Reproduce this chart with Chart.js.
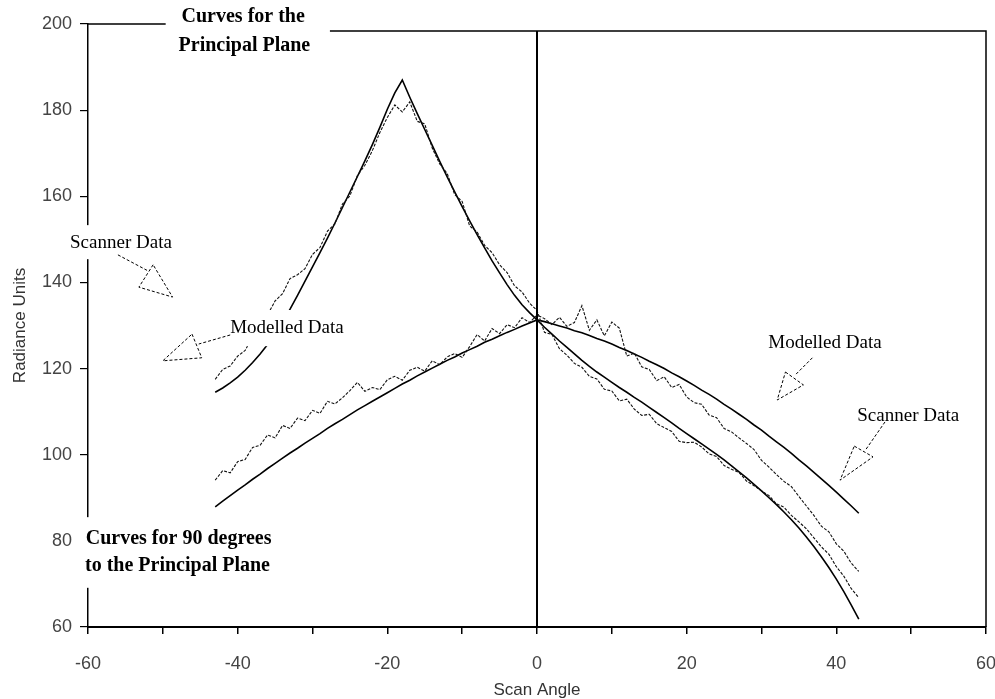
<!DOCTYPE html>
<html>
<head>
<meta charset="utf-8">
<script src="https://cdn.jsdelivr.net/npm/chart.js@4.4.0/dist/chart.umd.min.js"></script>
<style>
  html, body { margin: 0; padding: 0; background: #fff; }
  #wrap { width: 995px; height: 699px; position: relative; }
</style>
</head>
<body>
<div id="wrap"><canvas id="chart"></canvas></div>
<script>
// scan angle (degrees) shared by all four curves
const angles = [
  -43, -42, -41, -40, -39, -38, -37, -36, -35, -34, -33, -32, -31, -30, -29,
  -28, -27, -26, -25, -24, -23, -22, -21, -20, -19, -18, -17, -16, -15, -14,
  -13, -12, -11, -10, -9, -8, -7, -6, -5, -4, -3, -2, -1, 0,
  1, 2, 3, 4, 5, 6, 7, 8, 9, 10, 11, 12, 13, 14, 15, 16, 17, 18, 19, 20,
  21, 22, 23, 24, 25, 26, 27, 28, 29, 30, 31, 32, 33, 34, 35, 36, 37, 38,
  39, 40, 41, 42, 43
];

// principal plane, modelled
const principalModel = [
  114.5, 115.5, 116.7, 118.0, 119.6, 121.4, 123.4, 125.6, 128.0, 130.8, 133.8,
  137.0, 140.3, 143.6, 146.9, 150.3, 153.8, 157.4, 161.0, 164.6, 168.2, 172.0,
  176.0, 180.2, 184.0, 187.0, 183.0, 179.2, 175.5, 171.8, 168.1, 164.5, 161.0,
  157.6, 154.3, 151.1, 148.0, 145.0, 142.2, 139.5, 137.0, 134.8, 133.0, 131.3,
  129.6, 128.0, 126.4, 124.9, 123.4, 121.9, 120.5, 119.2, 118.0, 116.8, 115.6,
  114.5, 113.3, 112.2, 111.0, 109.8, 108.6, 107.4, 106.1, 104.9, 103.7, 102.5,
  101.3, 100.1, 98.8, 97.4, 96.0, 94.6, 93.1, 91.6, 90.0, 88.4, 86.7, 84.9,
  83.0, 80.9, 78.7, 76.3, 73.8, 71.1, 68.2, 65.1, 61.8
];

// principal plane, scanner
const principalScan = [
  117.5, 119.8, 120.6, 122.9, 124.2, 127.5, 129.8, 132.5, 135.7, 137.4, 140.9,
  141.8, 143.2, 146.5, 148.1, 151.9, 153.6, 158.2, 160.1, 164.8, 167.2, 170.6,
  174.8, 178.3, 181.2, 179.6, 181.9, 177.4, 176.8, 171.2, 167.5, 165.3, 160.4,
  158.8, 153.1, 151.7, 148.6, 146.9, 144.1, 142.3, 139.2, 137.8, 135.2, 133.5,
  128.4, 127.9, 124.6, 123.1, 121.2, 120.3, 118.2, 117.6, 115.2, 114.8, 112.5,
  112.9, 110.6, 109.1, 109.4, 107.2, 106.3, 105.4, 103.1, 102.8, 102.9, 101.8,
  100.2, 99.6, 97.5, 96.6, 95.9, 93.9, 92.8, 91.6, 90.5, 88.6, 87.8, 85.9,
  84.4, 82.8, 80.7, 78.6, 76.9, 74.0, 71.8, 68.9, 66.8
];

// 90 degrees to the principal plane, modelled
const crossModel = [
  87.9, 89.2, 90.5, 91.8, 93.0, 94.3, 95.5, 96.8, 98.0, 99.2, 100.4, 101.5,
  102.7, 103.8, 104.9, 106.1, 107.2, 108.2, 109.3, 110.4, 111.4, 112.4, 113.4,
  114.4, 115.4, 116.4, 117.3, 118.3, 119.2, 120.1, 121.0, 121.9, 122.7, 123.6,
  124.4, 125.2, 126.1, 126.8, 127.6, 128.4, 129.1, 129.9, 130.6, 131.3,
  130.9, 130.4, 129.9, 129.4, 128.8, 128.3, 127.7, 127.0, 126.4, 125.7, 124.9,
  124.2, 123.4, 122.6, 121.7, 120.9, 120.0, 119.0, 118.1, 117.1, 116.1, 115.0,
  114.0, 112.9, 111.7, 110.6, 109.4, 108.2, 106.9, 105.7, 104.3, 103.0, 101.7,
  100.3, 98.8, 97.4, 95.9, 94.4, 92.9, 91.3, 89.7, 88.1, 86.4
];

// 90 degrees to the principal plane, scanner
const crossScan = [
  94.1, 96.3, 95.8, 98.4, 98.9, 101.7, 102.2, 104.6, 103.9, 106.8, 106.1, 108.5,
  107.9, 110.3, 109.6, 112.4, 111.8, 113.2, 114.9, 116.8, 114.7, 115.6, 115.1,
  117.4, 118.2, 117.3, 119.6, 120.3, 119.4, 121.8, 120.9, 122.7, 123.5, 122.6,
  125.1, 127.9, 126.4, 129.3, 128.1, 130.2, 129.5, 131.8, 130.7, 132.4,
  131.6, 130.2, 131.9, 129.8, 130.7, 134.6, 128.9, 131.3, 127.6, 130.8, 129.4,
  122.9, 123.6, 120.4, 119.8, 117.2, 118.1, 115.6, 116.3, 113.4, 112.1, 111.7,
  109.2, 108.6, 106.1, 105.3, 103.9, 102.6, 101.2, 98.7, 97.1, 95.4, 93.8,
  92.6, 90.3, 88.1, 85.9, 83.4, 82.1, 79.3, 77.6, 74.8, 72.9
];

// text labels, anchored at their left edge / vertical middle, in data units
const labels = [
  { text: 'Curves for the', x: -47.5, y: 201.6, bold: true },
  { text: 'Principal Plane', x: -47.9, y: 194.9, bold: true },
  { text: 'Curves for 90 degrees', x: -60.3, y: 80.4, bold: true },
  { text: 'to the Principal Plane', x: -60.4, y: 74.2, bold: true },
  { text: 'Scanner Data', x: -62.4, y: 149.2 },
  { text: 'Modelled Data', x: -41.0, y: 129.4 },
  { text: 'Modelled Data', x: 30.9, y: 125.9 },
  { text: 'Scanner Data', x: 42.8, y: 109.0 }
];

// white boxes behind labels that break the axis and curves [x1, y1, x2, y2]
const labelBoxes = [
  [-49.6, 204.6, -27.7, 191.2],
  [-61.0, 85.5, -33.0, 69.1],
  [-63.2, 153.3, -47.5, 145.4],
  [-41.7, 133.6, -23.9, 125.2]
];

// arrow pointers: leader line + open triangle
const arrows = [
  { line: [[-56.0, 146.4], [-52.0, 142.7]], tri: [[-51.3, 144.1], [-53.2, 138.9], [-48.7, 136.6]] },
  { line: [[-41.0, 127.8], [-45.2, 125.7]], tri: [[-46.1, 128.0], [-44.8, 122.5], [-50.0, 121.8]] },
  { line: [[36.8, 122.5], [34.5, 118.5]], tri: [[33.2, 119.2], [35.6, 116.2], [32.1, 112.7]] },
  { line: [[46.5, 107.6], [43.9, 101.1]], tri: [[42.4, 102.0], [44.9, 99.5], [40.5, 94.1]] }
];

const toPoints = (vals) => angles.map((a, i) => ({ x: a, y: vals[i] }));

const solid = { borderColor: '#000', borderWidth: 1.6, pointRadius: 0, fill: false, tension: 0 };
const ragged = { borderColor: '#111', borderWidth: 1.1, borderDash: [3, 1.5], pointRadius: 0, fill: false, tension: 0 };

const decorations = {
  id: 'decorations',
  afterDraw(chart) {
    const { ctx, scales: { x, y } } = chart;
    const px = (v) => x.getPixelForValue(v);
    const py = (v) => y.getPixelForValue(v);
    const top2 = py(200) + 7;
    ctx.save();
    ctx.strokeStyle = '#000';
    // frame: top edge, right edge, zero line
    ctx.lineWidth = 1.5;
    ctx.beginPath();
    ctx.moveTo(px(-60), py(200)); ctx.lineTo(px(-49.6), py(200));
    ctx.moveTo(px(-27.7), top2); ctx.lineTo(px(60), top2);
    ctx.lineTo(px(60), py(60));
    ctx.stroke();
    ctx.lineWidth = 2;
    ctx.beginPath();
    ctx.moveTo(px(0), top2); ctx.lineTo(px(0), py(60));
    ctx.stroke();

    ctx.fillStyle = '#fff';
    labelBoxes.forEach(([x1, y1, x2, y2]) => {
      ctx.fillRect(px(x1), py(y1), px(x2) - px(x1), py(y2) - py(y1));
    });

    ctx.fillStyle = '#000';
    ctx.textBaseline = 'middle';
    ctx.textAlign = 'left';
    labels.forEach((l) => {
      ctx.font = l.bold ? 'bold 20px "Liberation Serif"' : '19px "Liberation Serif"';
      ctx.fillText(l.text, px(l.x), py(l.y));
    });

    ctx.lineWidth = 1;
    ctx.setLineDash([3, 2]);
    arrows.forEach((a) => {
      ctx.beginPath();
      ctx.moveTo(px(a.line[0][0]), py(a.line[0][1]));
      ctx.lineTo(px(a.line[1][0]), py(a.line[1][1]));
      ctx.stroke();
      ctx.beginPath();
      a.tri.forEach(([tx, ty], i) => {
        if (i === 0) ctx.moveTo(px(tx), py(ty));
        else ctx.lineTo(px(tx), py(ty));
      });
      ctx.closePath();
      ctx.stroke();
    });
    ctx.restore();
  }
};

const tickFont = { size: 18, family: '"Liberation Sans", Arial, sans-serif' };

new Chart(document.getElementById('chart'), {
  type: 'line',
  data: {
    datasets: [
      { label: 'Principal plane scanner', data: toPoints(principalScan), ...ragged },
      { label: '90 degrees scanner', data: toPoints(crossScan), ...ragged },
      { label: 'Principal plane modelled', data: toPoints(principalModel), ...solid },
      { label: '90 degrees modelled', data: toPoints(crossModel), ...solid }
    ]
  },
  options: {
    responsive: true,
    maintainAspectRatio: false,
    animation: false,
    layout: { padding: { top: 24, right: 9, left: 0, bottom: 0 } },
    plugins: { legend: { display: false }, tooltip: { enabled: false } },
    scales: {
      x: {
        type: 'linear',
        min: -60,
        max: 60,
        afterFit: (s) => { s.height = 72; s.paddingLeft = 0; s.paddingRight = 0; },
        ticks: {
          stepSize: 10,
          autoSkip: false,
          maxRotation: 0,
          padding: 19,
          color: '#444',
          font: tickFont,
          callback: (v) => (v % 20 === 0 ? String(v) : '')
        },
        grid: { drawOnChartArea: false, tickLength: 7, color: '#000', lineWidth: 1.5 },
        border: { color: '#000', width: 2 },
        title: { display: true, text: 'Scan Angle', color: '#333', font: { size: 17, family: '"Liberation Sans", Arial, sans-serif' }, padding: { top: 0, bottom: -2 } }
      },
      y: {
        min: 60,
        max: 200,
        afterFit: (s) => { s.width = 88; s.paddingTop = 0; s.paddingBottom = 0; },
        ticks: { stepSize: 20, padding: 8, color: '#444', font: tickFont },
        grid: {
          drawOnChartArea: false,
          tickLength: 8,
          lineWidth: 1.2,
          color: '#000',
          tickColor: (c) => (c.tick && c.tick.value === 80 ? 'rgba(0,0,0,0)' : '#000')
        },
        border: { color: '#000', width: 1.5 },
        title: { display: true, text: 'Radiance Units', color: '#333', font: { size: 17, family: '"Liberation Sans", Arial, sans-serif' }, padding: { top: 10, bottom: 0 } }
      }
    }
  },
  plugins: [decorations]
});
</script>
</body>
</html>
